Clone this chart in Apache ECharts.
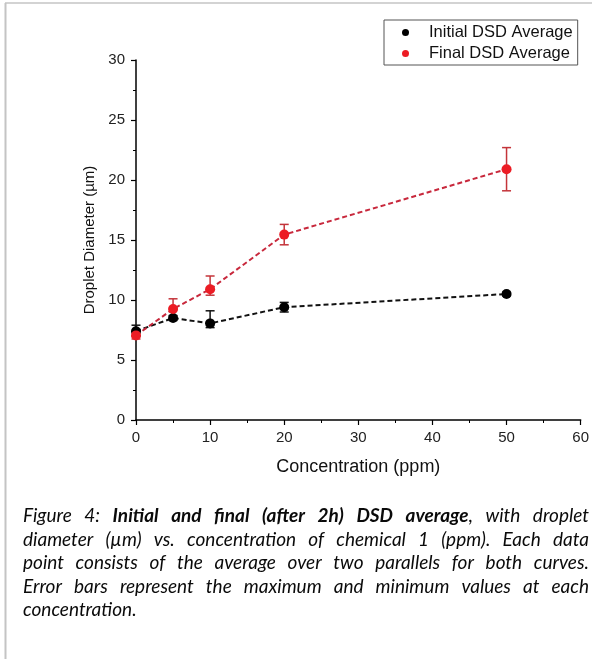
<!DOCTYPE html>
<html>
<head>
<meta charset="utf-8">
<script src="https://cdn.jsdelivr.net/npm/echarts@6/dist/echarts.min.js"></script>
<style>
  html, body { margin: 0; padding: 0; background: #fff; }
  #chart { width: 592px; height: 659px; }
</style>
</head>
<body>
<div id="chart"></div>
<script>
// Droplet size vs. concentration, two curves with min/max error bars
const concentration = [0, 5, 10, 20, 50];

const initialAvg = [7.4, 8.5, 8.05, 9.4, 10.5];
const initialMin = [7.0, 8.3, 7.7, 9.0, 10.35];
const initialMax = [7.9, 8.7, 9.1, 9.8, 10.65];

const finalAvg = [7.05, 9.25, 10.9, 15.45, 20.9];
const finalMin = [6.75, 8.4, 10.4, 14.6, 19.1];
const finalMax = [7.4, 10.1, 12.0, 16.3, 22.7];

const seriesNames = ['Initial DSD Average', 'Final DSD Average'];
const xTickStep = 10;
const yTickStep = 5;

const captionLines = [
  'Figure 4: **Initial and final (after 2h) DSD average**, with droplet',
  'diameter (\u00b5m) vs. concentration of chemical 1 (ppm). Each data',
  'point consists of the average over two parallels for both curves.',
  'Error bars represent the maximum and minimum values at each',
  'concentration.'
];

const AXIS_FONT = '"Liberation Sans", Arial, sans-serif';
const CAPTION_FONT = 'Lato, "Open Sans", sans-serif';
const CAPTION_SIZE = 19;

function errorBars(name, lo, hi, color) {
  return {
    type: 'custom',
    name: name,
    silent: true,
    z: 3,
    data: concentration.map((x, i) => [x, lo[i], hi[i]]),
    encode: { x: 0, y: [1, 2] },
    renderItem: (params, api) => {
      const x = api.value(0);
      const a = api.coord([x, api.value(1)]);
      const b = api.coord([x, api.value(2)]);
      const w = 4.5;
      const st = { stroke: color, lineWidth: 1.5 };
      return {
        type: 'group',
        children: [
          { type: 'line', shape: { x1: a[0], y1: a[1], x2: b[0], y2: b[1] }, style: st },
          { type: 'line', shape: { x1: a[0] - w, y1: a[1], x2: a[0] + w, y2: a[1] }, style: st },
          { type: 'line', shape: { x1: b[0] - w, y1: b[1], x2: b[0] + w, y2: b[1] }, style: st }
        ]
      };
    }
  };
}

// Lay out the caption as justified lines, word by word
function captionGraphics(left, right, top, lineHeight) {
  const cv = document.createElement('canvas').getContext('2d');
  const fontOf = (b) => 'italic ' + (b ? 'bold ' : '') + CAPTION_SIZE + 'px ' + CAPTION_FONT;
  const out = [];
  captionLines.forEach((line, li) => {
    const tokens = [];
    let cur = [];
    let bold = false;
    let buf = '';
    const flush = () => { if (buf) { cur.push({ t: buf, b: bold }); buf = ''; } };
    for (let i = 0; i < line.length; i++) {
      if (line.startsWith('**', i)) { flush(); bold = !bold; i++; continue; }
      const ch = line[i];
      if (ch === ' ') { flush(); if (cur.length) tokens.push(cur); cur = []; continue; }
      buf += ch;
    }
    flush();
    if (cur.length) tokens.push(cur);
    const widths = tokens.map(tok => tok.reduce((s, p) => {
      cv.font = fontOf(p.b);
      return s + cv.measureText(p.t).width;
    }, 0));
    const total = widths.reduce((s, w) => s + w, 0);
    const last = li === captionLines.length - 1;
    cv.font = fontOf(false);
    const space = cv.measureText(' ').width;
    const gap = last || tokens.length < 2 ? space : (right - left - total) / (tokens.length - 1);
    let x = left;
    const y = top + li * lineHeight;
    tokens.forEach((tok, ti) => {
      let px = x;
      tok.forEach(p => {
        cv.font = fontOf(p.b);
        out.push({
          type: 'text', left: px, top: y - CAPTION_SIZE / 2 - 2,
          style: { text: p.t, font: fontOf(p.b), fill: '#0a0a0a' }
        });
        px += cv.measureText(p.t).width;
      });
      x += widths[ti] + gap;
    });
  });
  return out;
}

const chart = echarts.init(document.getElementById('chart'), null, { renderer: 'canvas' });

const axisCommon = {
  type: 'value',
  axisLine: { show: true, onZero: false, lineStyle: { color: '#000', width: 1.5 } },
  axisTick: { show: true, inside: false, length: 5, lineStyle: { color: '#000', width: 1.2 } },
  minorTick: { show: true, splitNumber: 2, length: 3, lineStyle: { color: '#000', width: 1 } },
  splitLine: { show: false },
  minorSplitLine: { show: false },
  axisLabel: { color: '#222', fontSize: 15, fontFamily: AXIS_FONT },
  nameTextStyle: { color: '#111', fontFamily: AXIS_FONT }
};

chart.setOption({
  animation: false,
  backgroundColor: '#fff',
  grid: { left: 136, right: 10, top: 60, bottom: 239, containLabel: false },
  xAxis: Object.assign({}, axisCommon, {
    min: 0, max: 60, interval: xTickStep,
    name: 'Concentration (ppm)', nameLocation: 'middle', nameGap: 38,
    axisLabel: Object.assign({}, axisCommon.axisLabel, { margin: 10 }),
    nameTextStyle: Object.assign({}, axisCommon.nameTextStyle, { fontSize: 18 })
  }),
  yAxis: Object.assign({}, axisCommon, {
    min: 0, max: 30, interval: yTickStep,
    name: 'Droplet Diameter (\u00b5m)', nameLocation: 'middle', nameGap: 39,
    axisLabel: Object.assign({}, axisCommon.axisLabel, { margin: 11 }),
    nameTextStyle: Object.assign({}, axisCommon.nameTextStyle, { fontSize: 15 })
  }),
  legend: {
    data: seriesNames,
    orient: 'vertical',
    left: 384, top: 20,
    padding: [4, 5, 3, 18],
    itemGap: 4,
    icon: 'circle',
    itemWidth: 7, itemHeight: 7,
    borderColor: '#555', borderWidth: 1,
    textStyle: { fontSize: 16.5, color: '#111', fontFamily: AXIS_FONT, padding: [0, 0, 0, 15] }
  },
  series: [
    errorBars('Initial error', initialMin, initialMax, '#111'),
    errorBars('Final error', finalMin, finalMax, '#c4343a'),
    {
      name: seriesNames[0], type: 'line', z: 4,
      data: concentration.map((x, i) => [x, initialAvg[i]]),
      symbol: 'circle', symbolSize: 10,
      itemStyle: { color: '#000' },
      lineStyle: { color: '#111', width: 2, type: [5, 3] }
    },
    {
      name: seriesNames[1], type: 'line', z: 4,
      data: concentration.map((x, i) => [x, finalAvg[i]]),
      symbol: 'circle', symbolSize: 10,
      itemStyle: { color: '#ec1c24' },
      lineStyle: { color: '#c8283c', width: 2, type: [5, 3] }
    }
  ],
  graphic: [
    { type: 'line', shape: { x1: 5, y1: 3, x2: 592, y2: 3 }, style: { stroke: '#c4c4c4', lineWidth: 1.5 } },
    { type: 'line', shape: { x1: 5.5, y1: 3, x2: 5.5, y2: 659 }, style: { stroke: '#c4c4c4', lineWidth: 2 } }
  ].concat(captionGraphics(23, 589, 518, 23.5))
});
</script>
</body>
</html>
